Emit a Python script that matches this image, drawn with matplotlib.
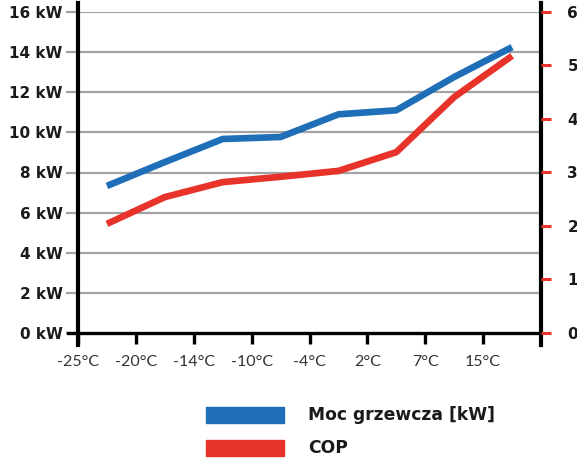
import matplotlib
matplotlib.use("Agg")
import matplotlib.pyplot as plt
from matplotlib.lines import Line2D
from matplotlib.patches import Rectangle

# ---- data ----
temp_labels = ["-25°C", "-20°C", "-14°C", "-10°C", "-4°C", "2°C", "7°C", "15°C"]
power_kw = [7.33, 8.52, 9.67, 9.77, 10.9, 11.1, 12.76, 14.25]
cop = [2.04, 2.54, 2.82, 2.92, 3.03, 3.38, 4.41, 5.18]
kw_ticks = [0, 2, 4, 6, 8, 10, 12, 14, 16]
kw_labels = [f"{v} kW" for v in kw_ticks]
cop_ticks = [0, 1, 2, 3, 4, 5, 6]
legend_labels = ["Moc grzewcza [kW]", "COP"]

BLUE = "#1f6fb8"
RED = "#e8332a"
GRID = "#a3a3a3"

W, H = 577, 463
fig = plt.figure(figsize=(W / 100, H / 100), dpi=100)

x0, x1 = 78, 541
y_bot, y_top = 333, 12
ax = fig.add_axes([x0 / W, 1 - y_bot / H, (x1 - x0) / W, (y_bot - y_top) / H])
ax2 = ax.twinx()

n = len(temp_labels)
xs = [i + 0.5 for i in range(n)]

ax.set_xlim(0, n)
ax.set_ylim(0, 16)
ax2.set_ylim(0, 6)

for a in (ax, ax2):
    for s in a.spines.values():
        s.set_visible(False)
    a.patch.set_visible(False)

# grid lines
for v in kw_ticks[1:]:
    ax.axhline(v, color=GRID, lw=1.6, zorder=1)

ax.plot(xs, power_kw, color=BLUE, lw=4.8, solid_capstyle="butt", zorder=3, clip_on=False)
ax2.plot(xs, cop, color=RED, lw=4.8, solid_capstyle="butt", zorder=3, clip_on=False)

# spines drawn as lines extending beyond the axes
ext_b = 12 / (y_bot - y_top)
ext_t = 9 / (y_bot - y_top)
ax.add_line(Line2D([0, 0], [-ext_b, 1 + ext_t], transform=ax.transAxes, color="black",
                   lw=3, clip_on=False, zorder=5))
ax.add_line(Line2D([1, 1], [-ext_b, 1 + ext_t], transform=ax.transAxes, color="black",
                   lw=3, clip_on=False, zorder=5))
ax.add_line(Line2D([-10 / (x1 - x0), 1], [0, 0], transform=ax.transAxes, color="black",
                   lw=2.4, clip_on=False, zorder=5))

# left ticks
ax.set_yticks(kw_ticks)
ax.set_yticklabels(kw_labels, fontsize=11, fontweight="heavy", color="#1a1a1a",
                   family="DejaVu Sans")
ax.tick_params(axis="y", direction="out", length=9, width=1.6, color=GRID, pad=2)

# bottom ticks
ax.set_xticks(range(n))
ax.set_xticklabels(temp_labels, fontsize=11.5, color="#333333", family="Lato",
                   fontweight="normal")
ax.tick_params(axis="x", direction="out", length=8, width=2.4, color="black", pad=8)

# right ticks
ax2.set_yticks(cop_ticks)
ax2.set_yticklabels([str(v) for v in cop_ticks], fontsize=11, fontweight="heavy",
                    color="#1a1a1a", family="DejaVu Sans")
ax2.tick_params(axis="y", direction="out", length=7, width=2.2, color=RED, pad=12)

# legend
def px(x, y):
    return x / W, 1 - y / H

for i, (lab, col) in enumerate(zip(legend_labels, [BLUE, RED])):
    ytop = 407 + i * 33
    fx, fy = px(206, ytop + 16)
    fig.patches.append(Rectangle((fx, fy), 78 / W, 16 / H, transform=fig.transFigure,
                                 color=col))
    tx, ty = px(308, ytop + 8)
    fig.text(tx, ty, lab, fontsize=12.3, fontweight="heavy", color="#1a1a1a",
             va="center", ha="left", family="DejaVu Sans")

fig.savefig("out.png", dpi=100)
